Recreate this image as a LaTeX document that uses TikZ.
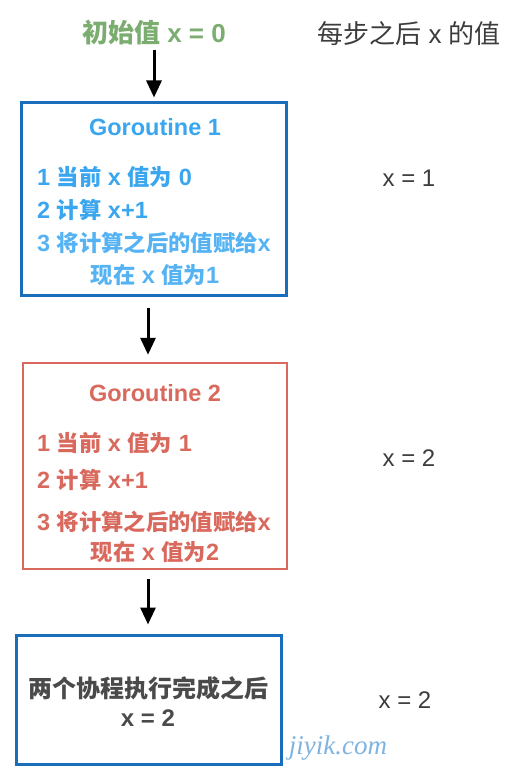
\documentclass[tikz,border=0pt]{standalone}
\usepackage{fontspec}
\setmainfont{Liberation Sans}
\newfontfamily\cjkfont{Noto Sans CJK SC}
\newfontfamily\cjkfontb{Noto Sans CJK SC}[Scale=0.95]
\newfontfamily\wmfont{Liberation Serif}
\newcommand\C[1]{{\cjkfont #1}}
\newcommand\D[1]{{\cjkfontb #1}}
\usetikzlibrary{arrows.meta}
\definecolor{bborder}{HTML}{1A6DBA}
\definecolor{btext}{HTML}{3AA6F0}
\definecolor{btextl}{HTML}{55B3F4}
\definecolor{rcol}{HTML}{D9695D}
\definecolor{gcol}{HTML}{7AAD6F}
\definecolor{dtext}{HTML}{4A4A4A}
\definecolor{htext}{HTML}{3C3C3C}
\definecolor{wm}{HTML}{7FB3E0}
\tikzset{
  box/.style={draw, line width=3pt, inner sep=0pt, fill=none},
  txt/.style={inner sep=0pt, font=\fontsize{23.5}{28}\selectfont\bfseries},
  ltxt/.style={inner sep=0pt, anchor=west, font=\fontsize{23.5}{28}\selectfont\bfseries},
  rtxt/.style={inner sep=0pt, text=htext, font=\fontsize{24}{28}\selectfont},
  arr/.style={line width=3pt, -{Triangle[length=17pt,width=15pt]}},
}
\begin{document}
\begin{tikzpicture}[x=1pt,y=-1pt]
\useasboundingbox (0,0) rectangle (513,781);
% header
\node[txt, text=gcol, font=\fontsize{26}{30}\selectfont\bfseries] (init) at (154,33) {\C{初始值} x = 0};
\node[rtxt, font=\fontsize{26}{30}\selectfont] (head) at (409,34) {\C{每步之后} x \C{的值}};
% box 1
\node[box, draw=bborder, minimum width=265pt, minimum height=193pt] (g1) at (154,199) {};
\node[txt, text=btext] (g1t) at (155,127) {Goroutine 1};
\node[ltxt, text=btext] (g1a) at (37,177) {1 \D{当前} x \D{值为} 0};
\node[ltxt, text=btext] (g1b) at (37,210) {2 \D{计算} x+1};
\node[ltxt, text=btextl] (g1c) at (37,243) {3 \D{将计算之后的值赋给}x};
\node[txt, text=btextl] (g1d) at (155,275) {\D{现在} x \D{值为}1};
\node[rtxt] (v1) at (409,178) {x = 1};
% box 2
\node[box, draw=rcol, line width=2.5pt, minimum width=264pt, minimum height=206pt] (g2) at (155,466) {};
\node[txt, text=rcol] (g2t) at (155,393) {Goroutine 2};
\node[ltxt, text=rcol] (g2a) at (37,443) {1 \D{当前} x \D{值为} 1};
\node[ltxt, text=rcol] (g2b) at (37,480) {2 \D{计算} x+1};
\node[ltxt, text=rcol] (g2c) at (37,522) {3 \D{将计算之后的值赋给}x};
\node[txt, text=rcol] (g2d) at (155,552) {\D{现在} x \D{值为}2};
\node[rtxt] (v2) at (409,458) {x = 2};
% box 3
\node[box, draw=bborder, minimum width=265pt, minimum height=129pt] (g3) at (149,700) {};
\node[txt, text=dtext, font=\fontsize{24}{28}\selectfont\bfseries] (g3a) at (148,688) {\C{两个协程执行完成之后}};
\node[txt, text=dtext, font=\fontsize{24}{28}\selectfont\bfseries] (g3b) at (148,718) {x = 2};
\node[rtxt] (v3) at (405,700) {x = 2};
% watermark
\node[inner sep=0pt, text=wm, font=\fontsize{27}{30}\selectfont\wmfont\itshape] (wmk) at (338,748) {jiyik.com};
% arrows
\draw[arr, shorten <=4pt, shorten >=3.5pt] (init.south) -- (g1.north);
\draw[arr, shorten <=10.5pt, shorten >=7pt] ([xshift=-6pt]g1.south) -- ([xshift=-7pt]g2.north);
\draw[arr, shorten <=9pt, shorten >=9.5pt] ([xshift=-7pt]g2.south) -- ([xshift=-1pt]g3.north);
\end{tikzpicture}
\end{document}
